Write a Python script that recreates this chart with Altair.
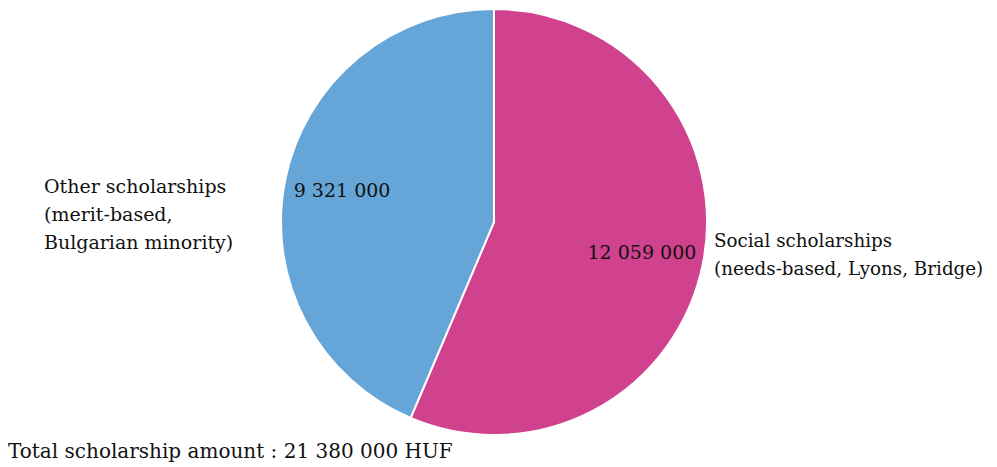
import altair as alt
import pandas as pd

categories = ["Social scholarships", "Other scholarships"]
labels = ["Social scholarships\n(needs-based, Lyons, Bridge)",
          "Other scholarships\n(merit-based,\nBulgarian minority)"]
values = [12059000, 9321000]
colors = ["#D0418E", "#65A5D8"]
total_label = "Total scholarship amount : 21 380 000 HUF"

df = pd.DataFrame({
    "category": categories,
    "label": labels,
    "value": values,
    "order": [0, 1],
    "value_text": [f"{v:,}".replace(",", " ") for v in values],
})

FONT = "DejaVu Serif"
FS = 19
CX, CY = 486, 214

base = alt.Chart(df)

arc = base.mark_arc(radius=213, stroke="white", strokeWidth=2).encode(
    theta=alt.Theta("value:Q", stack=True),
    color=alt.Color("category:N", scale=alt.Scale(domain=categories, range=colors), legend=None),
    order=alt.Order("order:Q"),
    x=alt.value(CX), y=alt.value(CY),
)

vals = base.mark_text(radius=153, font=FONT, fontSize=FS, color="#111111").encode(
    theta=alt.Theta("value:Q", stack=True),
    order=alt.Order("order:Q"),
    text="value_text:N",
    x=alt.value(CX - 2), y=alt.value(CY),
)

right_lbl = base.transform_filter(alt.datum.order == 0).mark_text(
    font=FONT, fontSize=18.3, align="left", baseline="middle", lineBreak="\n", lineHeight=28, color="#111111"
).encode(text="label:N", x=alt.value(706), y=alt.value(234))

left_lbl = base.transform_filter(alt.datum.order == 1).mark_text(
    font=FONT, fontSize=FS, align="left", baseline="middle", lineBreak="\n", lineHeight=28, color="#111111"
).encode(text="label:N", x=alt.value(36), y=alt.value(179))

total = alt.Chart(pd.DataFrame({"t": [total_label]})).mark_text(
    font=FONT, fontSize=20, align="left", baseline="middle", color="#111111"
).encode(text="t:N", x=alt.value(0), y=alt.value(444))

chart = alt.layer(arc, vals, right_lbl, left_lbl, total).properties(
    width=981, height=457, autosize="none", padding=0
).configure_view(stroke=None)

chart.save("out.html", embed_options={"renderer": "svg", "actions": False})
